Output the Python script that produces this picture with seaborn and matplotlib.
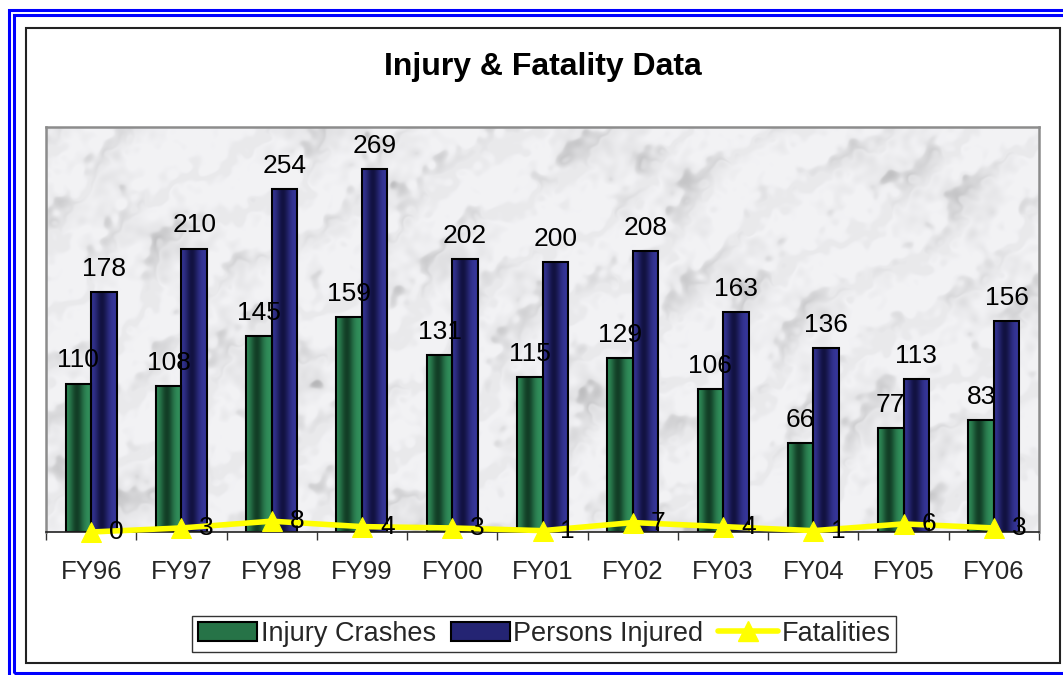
import numpy as np
import pandas as pd
import matplotlib
matplotlib.use("Agg")
import matplotlib.pyplot as plt
from matplotlib.patches import Rectangle, Patch
from matplotlib.lines import Line2D
import seaborn as sns

years = ["FY96", "FY97", "FY98", "FY99", "FY00", "FY01", "FY02", "FY03", "FY04", "FY05", "FY06"]
injury_crashes = [110, 108, 145, 159, 131, 115, 129, 106, 66, 77, 83]
persons_injured = [178, 210, 254, 269, 202, 200, 208, 163, 136, 113, 156]
fatalities = [0, 3, 8, 4, 3, 1, 7, 4, 1, 6, 3]
series_names = ["Injury Crashes", "Persons Injured"]

sns.set_theme(style="white")
plt.rcParams["font.family"] = ["Liberation Sans", "DejaVu Sans"]

W, H = 1063, 675
fig = plt.figure(figsize=(W / 100, H / 100), dpi=100)
fig.patch.set_facecolor("white")

def px_rect(x0, y0, x1, y1, color, lw):
    r = Rectangle((x0 / W, 1 - y1 / H), (x1 - x0) / W, (y1 - y0) / H,
                  transform=fig.transFigure, fill=False, edgecolor=color,
                  linewidth=lw, zorder=10)
    fig.add_artist(r)

# decorative frames
px_rect(8.5, 9.5, 1085, 695, "#0000ff", 2.2)
px_rect(13.5, 14.5, 1075, 673, "#0000ff", 2.2)
px_rect(25.5, 27.5, 1060, 663, "#222222", 1.5)

ax = fig.add_axes([46 / W, 1 - 532 / H, (1039 - 46) / W, (532 - 127) / H])

df = pd.DataFrame({
    "Year": years * 2,
    "Value": injury_crashes + persons_injured,
    "Series": [series_names[0]] * len(years) + [series_names[1]] * len(years),
})

light = {series_names[0]: np.array([50, 145, 92]) / 255,
         series_names[1]: np.array([55, 55, 155]) / 255}
dark = {series_names[0]: np.array([18, 62, 38]) / 255,
        series_names[1]: np.array([18, 18, 66]) / 255}

sns.barplot(data=df, x="Year", y="Value", hue="Series", order=years,
            hue_order=series_names,
            palette=[light[series_names[0]], light[series_names[1]]],
            width=0.565, edgecolor="black", linewidth=1.5, ax=ax,
            legend=False, zorder=3)

# marble-like background (deterministic decorative texture)
ny, nx = 405, 993
yy, xx = np.mgrid[0:ny, 0:nx] / 100.0
noise = np.zeros_like(xx)
for k in range(1, 30):
    f = 1.2 + 1.9 * k
    a = 2.399963 * k
    ph = 1.7 * k * k
    noise += np.sin(f * (np.cos(a) * xx + np.sin(a) * yy) + ph) / (0.5 * f ** 0.8)
noise /= np.abs(noise).max()
warp = 0.8 * noise + 0.3 * np.sin(2.1 * xx - 1.4 * yy)
streak = np.sin(7.0 * (xx + 1.2 * yy) + 5.0 * warp)
streak = np.exp(-((streak - 1.0) / 0.5) ** 2)
blot = np.clip(noise, 0, None)
g = 0.95 - 0.12 * streak * (0.3 + blot) - 0.10 * blot
bg = np.dstack([g, g, g * 1.01]).clip(0, 1)
ax.imshow(bg, extent=(-0.5, len(years) - 0.5, 0, 300), aspect="auto",
          zorder=0, interpolation="bilinear")

# gradient fill for bars
t = np.linspace(0, 1, 64)
k = np.exp(-((t - 0.42) / 0.26) ** 2)
for i, p in enumerate(ax.patches):
    if not isinstance(p, Rectangle) or p.get_height() == 0:
        continue
    s = series_names[0] if i < len(years) else series_names[1]
    cols = light[s][None, :] * (1 - k[:, None]) + dark[s][None, :] * k[:, None]
    img = cols[None, :, :]
    x0, y0 = p.get_x(), p.get_y()
    im = ax.imshow(img, extent=(x0, x0 + p.get_width(), y0, y0 + p.get_height()),
                   aspect="auto", zorder=3.5, interpolation="bilinear")
    im.set_clip_path(p)
    p.set_facecolor("none")
    p.set_zorder(4)

# fatalities line
xs = np.arange(len(years))
sns.lineplot(x=xs, y=fatalities, color="#ffff00", linewidth=4, marker="^",
             markersize=15, markeredgecolor="#ffff00", ax=ax, zorder=6,
             clip_on=False, legend=False)

# data labels
bw = 0.565 / 2
fs = 19
for i in range(len(years)):
    ax.annotate(str(injury_crashes[i]), (i - bw / 2, injury_crashes[i]),
                xytext=(0, 8), textcoords="offset points", ha="center",
                va="bottom", fontsize=fs, color="black", zorder=7)
    ax.annotate(str(persons_injured[i]), (i + bw / 2, persons_injured[i]),
                xytext=(0, 8), textcoords="offset points", ha="center",
                va="bottom", fontsize=fs, color="black", zorder=7)
    ax.annotate(str(fatalities[i]), (i + 0.28, fatalities[i]),
                xytext=(0, 0), textcoords="offset points", ha="center",
                va="center", fontsize=fs, color="black", zorder=7)

ax.set_xlim(-0.5, len(years) - 0.5)
ax.set_ylim(0, 300)
ax.set_yticks([])
ax.set_xlabel("")
ax.set_ylabel("")
ax.set_xticks(xs)
ax.set_xticklabels(years, fontsize=18.5)
ax.set_xticks(np.arange(-0.5, len(years)), minor=True)
ax.tick_params(axis="x", which="major", length=0, pad=20)
ax.tick_params(axis="x", which="minor", length=6, width=1, color="#333333",
               direction="out", bottom=True)
for side in ["top", "left", "right"]:
    ax.spines[side].set_color("#8c8c8c")
    ax.spines[side].set_linewidth(1.8)
ax.spines["bottom"].set_color("#222222")
ax.spines["bottom"].set_linewidth(1.2)
ax.spines["bottom"].set_zorder(5)

fig.text(543 / W, 1 - 67 / H, "Injury & Fatality Data", ha="center",
         va="center", fontsize=23, fontweight="bold", color="black")

handles = [
    Patch(facecolor=(0.15, 0.45, 0.28), edgecolor="black", linewidth=1.5),
    Patch(facecolor=(0.14, 0.14, 0.45), edgecolor="black", linewidth=1.5),
    Line2D([0], [0], color="#ffff00", linewidth=4, marker="^", markersize=15),
]
leg = fig.legend(handles, ["Injury Crashes", "Persons Injured", "Fatalities"],
                 loc="center", bbox_to_anchor=(544 / W, 1 - 634 / H), ncol=3,
                 fontsize=19.5, frameon=True, fancybox=False, handlelength=2.2,
                 handleheight=0.75, handletextpad=0.12, columnspacing=0.55,
                 borderpad=0.2, borderaxespad=0)
leg.get_frame().set_edgecolor("black")
leg.get_frame().set_linewidth(1.0)

fig.savefig("out.png", dpi=100)
